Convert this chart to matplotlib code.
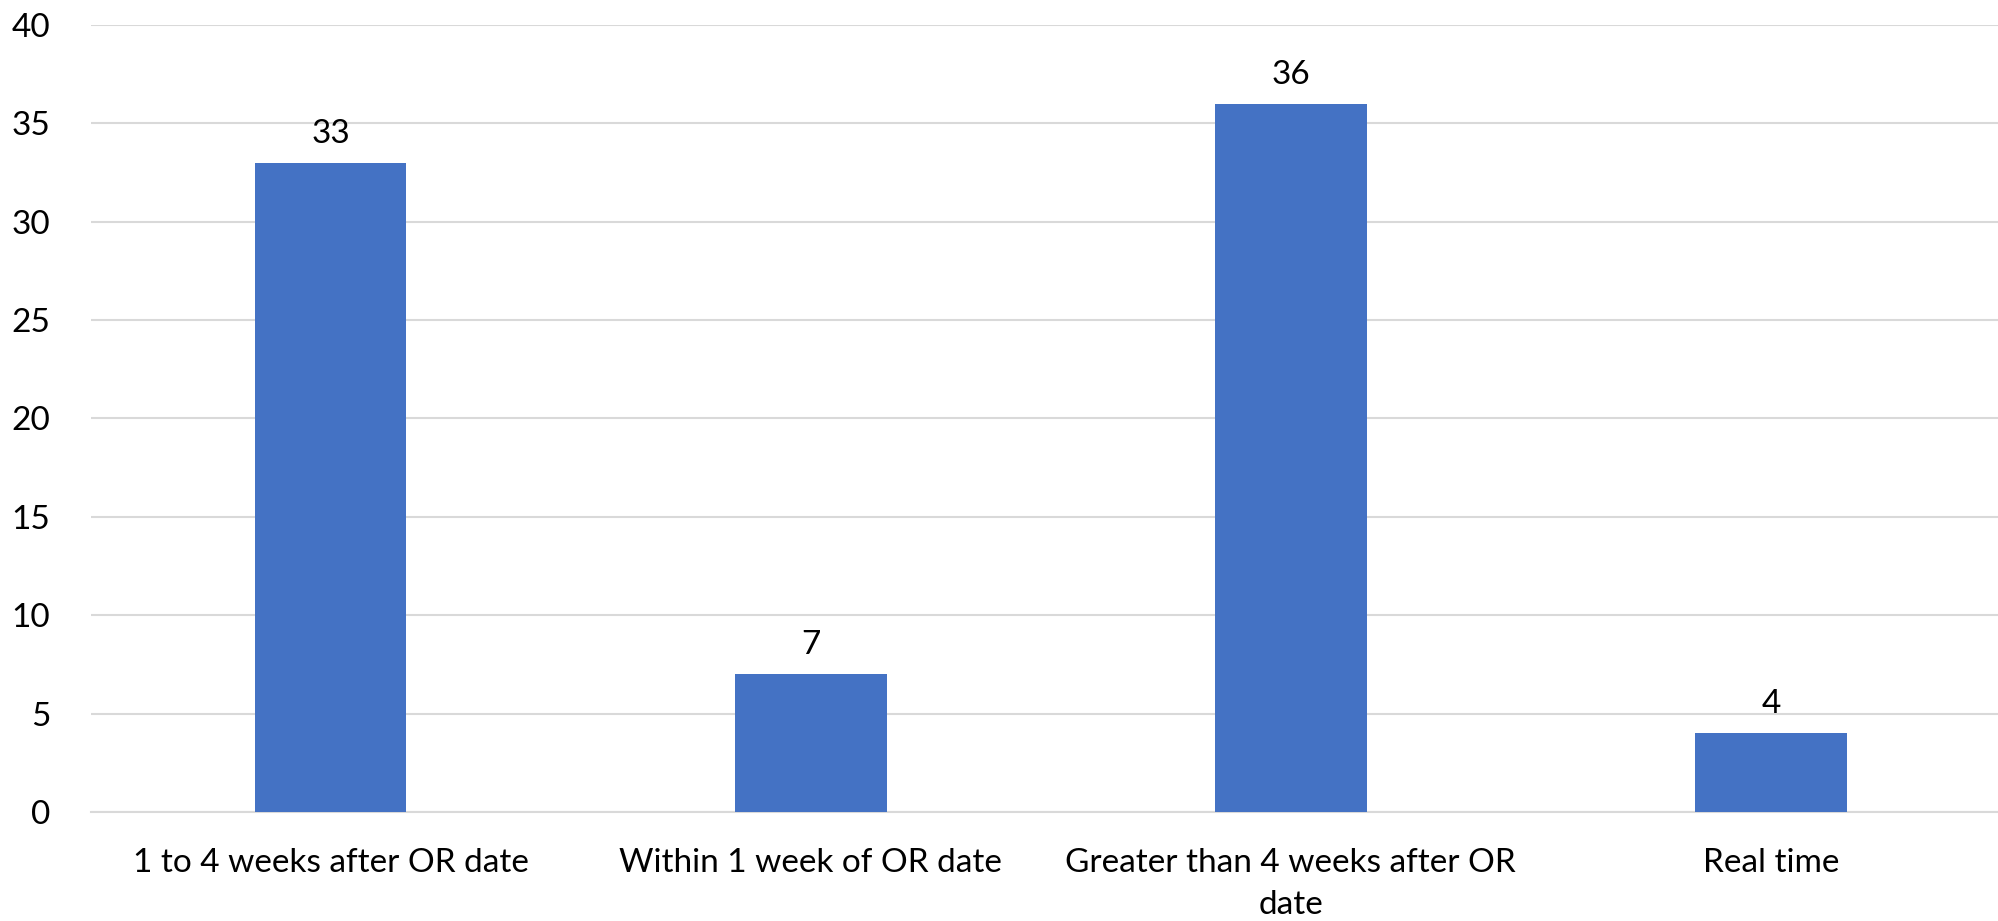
import matplotlib
matplotlib.use("Agg")
import matplotlib.pyplot as plt

categories = ["1 to 4 weeks after OR date", "Within 1 week of OR date",
              "Greater than 4 weeks after OR\ndate", "Real time"]
values = [33, 7, 36, 4]
yticks = [0, 5, 10, 15, 20, 25, 30, 35, 40]

plt.rcParams['font.family'] = ['Lato', 'DejaVu Sans']

W, H = 1998, 921
FS = 24
fig = plt.figure(figsize=(W / 100, H / 100), dpi=100)
ax = fig.add_axes([90.5 / W, 1 - 812 / H, (2011 - 90.5) / W, (812 - 25) / H])

x = list(range(len(categories)))
bars = ax.bar(x, values, width=0.316, color="#4472C4", zorder=3)
for b, v in zip(bars, values):
    ax.annotate(str(v), (b.get_x() + b.get_width() / 2, v), xytext=(0, 10),
                textcoords="offset points", ha="center", va="bottom",
                fontsize=FS, color="#000000")

ax.set_xlim(-0.5, len(categories) - 0.5)
ax.set_ylim(0, 40)
ax.set_yticks(yticks)
ax.set_yticklabels([str(t) for t in yticks], fontsize=FS)
ax.set_xticks(x)
ax.set_xticklabels(categories, fontsize=FS, linespacing=1.5, va="top")
ax.tick_params(axis="y", length=0, pad=29)
ax.tick_params(axis="x", length=0, pad=26)
ax.grid(axis="y", color="#D9D9D9", linewidth=1.5, zorder=0)
for s in ["top", "right", "left"]:
    ax.spines[s].set_visible(False)
ax.spines["bottom"].set_color("#D9D9D9")
ax.spines["bottom"].set_linewidth(1.5)

fig.savefig("out.png", dpi=100)
